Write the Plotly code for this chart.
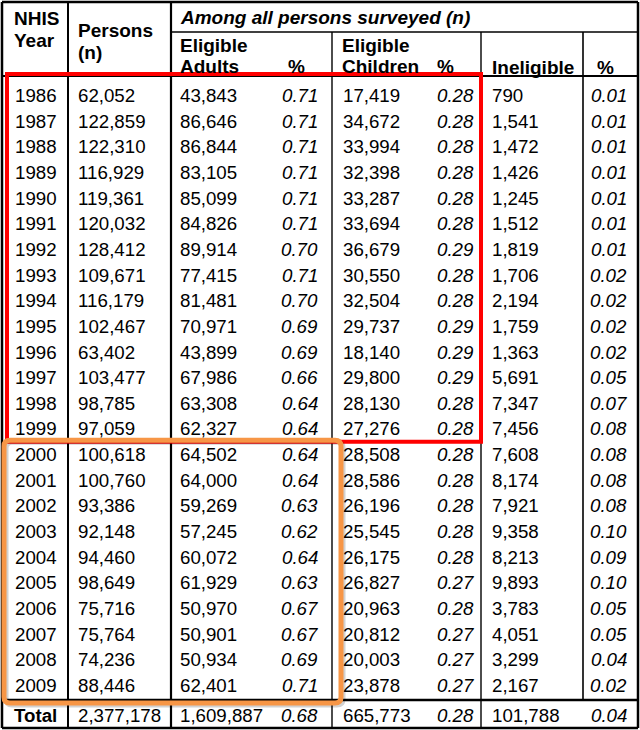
import plotly.graph_objects as go

# ---------------- data ----------------
years = list(range(1986, 2010))
persons = [62052, 122859, 122310, 116929, 119361, 120032, 128412, 109671, 116179, 102467,
           63402, 103477, 98785, 97059, 100618, 100760, 93386, 92148, 94460, 98649,
           75716, 75764, 74236, 88446]
adults = [43843, 86646, 86844, 83105, 85099, 84826, 89914, 77415, 81481, 70971,
          43899, 67986, 63308, 62327, 64502, 64000, 59269, 57245, 60072, 61929,
          50970, 50901, 50934, 62401]
adults_pct = [0.71, 0.71, 0.71, 0.71, 0.71, 0.71, 0.70, 0.71, 0.70, 0.69,
              0.69, 0.66, 0.64, 0.64, 0.64, 0.64, 0.63, 0.62, 0.64, 0.63,
              0.67, 0.67, 0.69, 0.71]
children = [17419, 34672, 33994, 32398, 33287, 33694, 36679, 30550, 32504, 29737,
            18140, 29800, 28130, 27276, 28508, 28586, 26196, 25545, 26175, 26827,
            20963, 20812, 20003, 23878]
children_pct = [0.28, 0.28, 0.28, 0.28, 0.28, 0.28, 0.29, 0.28, 0.28, 0.29,
                0.29, 0.29, 0.28, 0.28, 0.28, 0.28, 0.28, 0.28, 0.28, 0.27,
                0.28, 0.27, 0.27, 0.27]
ineligible = [790, 1541, 1472, 1426, 1245, 1512, 1819, 1706, 2194, 1759,
              1363, 5691, 7347, 7456, 7608, 8174, 7921, 9358, 8213, 9893,
              3783, 4051, 3299, 2167]
ineligible_pct = [0.01, 0.01, 0.01, 0.01, 0.01, 0.01, 0.01, 0.02, 0.02, 0.02,
                  0.02, 0.05, 0.07, 0.08, 0.08, 0.08, 0.08, 0.10, 0.09, 0.10,
                  0.05, 0.05, 0.04, 0.02]
total_label = "Total"
total_persons = 2377178
total_adults = 1609887
total_adults_pct = 0.68
total_children = 665773
total_children_pct = 0.28
total_ineligible = 101788
total_ineligible_pct = 0.04

header_top = ["NHIS", "Among all persons surveyed (n)"]
header_texts = {
    "year": ["NHIS", "Year"],
    "persons": ["Persons", "(n)"],
    "adults": ["Eligible", "Adults"],
    "children": ["Eligible", "Children"],
    "inelig": "Ineligible",
    "pct": "%",
}
red_years = (1986, 1999)
orange_years = (2000, 2009)

# ---------------- layout geometry ----------------
W, H = 640, 730
FONT = "Liberation Sans, Arial, sans-serif"
FS = 18.7
HFS = 19
col_x = [2, 68, 171, 332, 481, 583, 638]
Y_TOP, Y_SUB, Y_HEAD, Y_TOTLINE, Y_BOT = 2, 32, 76, 700, 728
ROW0, ROWH = 95.5, 25.65
TOT_Y = 715

def row_y(i):
    return ROW0 + i * ROWH

shapes = []
annotations = []

def line(x0, y0, x1, y1, w=2, c="black"):
    shapes.append(dict(type="line", xref="x", yref="y", x0=x0, y0=y0, x1=x1, y1=y1,
                       line=dict(color=c, width=w)))

def txt(x, y, s, anchor="left", bold=False, italic=False, size=FS):
    if italic:
        s = "<i>" + s + "</i>"
    if bold:
        s = "<b>" + s + "</b>"
    annotations.append(dict(x=x, y=y, xref="x", yref="y", text=s, showarrow=False,
                            xanchor=anchor, yanchor="middle",
                            font=dict(family=FONT, size=size, color="black")))

# grid lines
line(col_x[0], Y_TOP, col_x[-1], Y_TOP, 2.5)
line(col_x[2], Y_SUB, col_x[-1], Y_SUB, 1.5)
line(col_x[0], Y_HEAD, col_x[-1], Y_HEAD, 2)
line(col_x[0], Y_TOTLINE, col_x[-1], Y_TOTLINE, 2.5)
line(col_x[0], Y_BOT, col_x[-1], Y_BOT, 2.5)
line(col_x[0], Y_TOP, col_x[0], Y_BOT, 2.5)
line(col_x[-1], Y_TOP, col_x[-1], Y_BOT, 2.5)
line(col_x[1], Y_TOP, col_x[1], Y_BOT, 2)
line(col_x[2], Y_TOP, col_x[2], Y_BOT, 2.2)
line(col_x[3], Y_SUB, col_x[3], Y_BOT, 1.4)
line(col_x[4], Y_SUB, col_x[4], Y_BOT, 1.4)
line(col_x[5], Y_SUB, col_x[5], Y_TOTLINE, 1.6)

# red highlight box (years red_years)
r1 = years.index(red_years[1])
ry0 = Y_HEAD - 2
ry1 = row_y(r1) + ROWH / 2
shapes.append(dict(type="rect", xref="x", yref="y", x0=7, x1=col_x[4], y0=ry0, y1=ry1,
                   line=dict(color="#FF0000", width=4)))

# orange highlight box (rounded)
ox0, ox1 = 4, 341
oy0 = ry1 - 1.5
oy1 = Y_TOTLINE + 3
rr = 6
def rpath(x0, y0, x1, y1, r):
    return (f"M {x0+r},{y0} L {x1-r},{y0} Q {x1},{y0} {x1},{y0+r} L {x1},{y1-r} "
            f"Q {x1},{y1} {x1-r},{y1} L {x0+r},{y1} Q {x0},{y1} {x0},{y1-r} "
            f"L {x0},{y0+r} Q {x0},{y0} {x0+r},{y0} Z")
shapes.append(dict(type="path", xref="x", yref="y", path=rpath(ox0+2, oy0+2, ox1+2, oy1+2, rr),
                   line=dict(color="rgba(0,0,0,0.18)", width=5)))
shapes.append(dict(type="path", xref="x", yref="y", path=rpath(ox0, oy0, ox1, oy1, rr),
                   line=dict(color="#F79646", width=5)))

# header text
txt(12, 18, header_texts["year"][0], bold=True, size=HFS)
txt(12, 40, header_texts["year"][1], bold=True, size=HFS)
txt(76, 30, header_texts["persons"][0], bold=True, size=HFS)
txt(76, 52, header_texts["persons"][1], bold=True, size=HFS)
txt(178, 17, header_top[1], bold=True, italic=True, size=HFS)
txt(178, 45, header_texts["adults"][0], bold=True, size=HFS)
txt(178, 66, header_texts["adults"][1], bold=True, size=HFS)
txt(286, 66, header_texts["pct"], bold=True, size=HFS)
txt(340, 45, header_texts["children"][0], bold=True, size=HFS)
txt(340, 66, header_texts["children"][1], bold=True, size=HFS)
txt(435, 66, header_texts["pct"], bold=True, size=HFS)
txt(490, 67, header_texts["inelig"], bold=True, size=HFS)
txt(595, 67, header_texts["pct"], bold=True, size=HFS)

# data rows
for i, yr in enumerate(years):
    y = row_y(i)
    txt(13, y, str(yr))
    txt(76, y, f"{persons[i]:,}")
    txt(178, y, f"{adults[i]:,}")
    txt(320, y, f"{adults_pct[i]:.2f}", anchor="right", italic=True)
    txt(341, y, f"{children[i]:,}")
    txt(476, y, f"{children_pct[i]:.2f}", anchor="right", italic=True)
    txt(490, y, f"{ineligible[i]:,}")
    txt(629, y, f"{ineligible_pct[i]:.2f}", anchor="right", italic=True)

# total row
txt(12, TOT_Y, total_label, bold=True)
txt(76, TOT_Y, f"{total_persons:,}")
txt(178, TOT_Y, f"{total_adults:,}")
txt(320, TOT_Y, f"{total_adults_pct:.2f}", anchor="right", italic=True)
txt(341, TOT_Y, f"{total_children:,}")
txt(476, TOT_Y, f"{total_children_pct:.2f}", anchor="right", italic=True)
txt(490, TOT_Y, f"{total_ineligible:,}")
txt(629, TOT_Y, f"{total_ineligible_pct:.2f}", anchor="right", italic=True)

fig = go.Figure()
fig.update_layout(
    width=W, height=H, margin=dict(l=0, r=0, t=0, b=0),
    paper_bgcolor="white", plot_bgcolor="white",
    xaxis=dict(range=[0, W], visible=False, fixedrange=True),
    yaxis=dict(range=[H, 0], visible=False, fixedrange=True),
    shapes=shapes, annotations=annotations, showlegend=False,
)
fig.write_html("out.html", config={"displayModeBar": False},
               post_script="document.body.style.margin='0';document.body.style.overflow='hidden';")
